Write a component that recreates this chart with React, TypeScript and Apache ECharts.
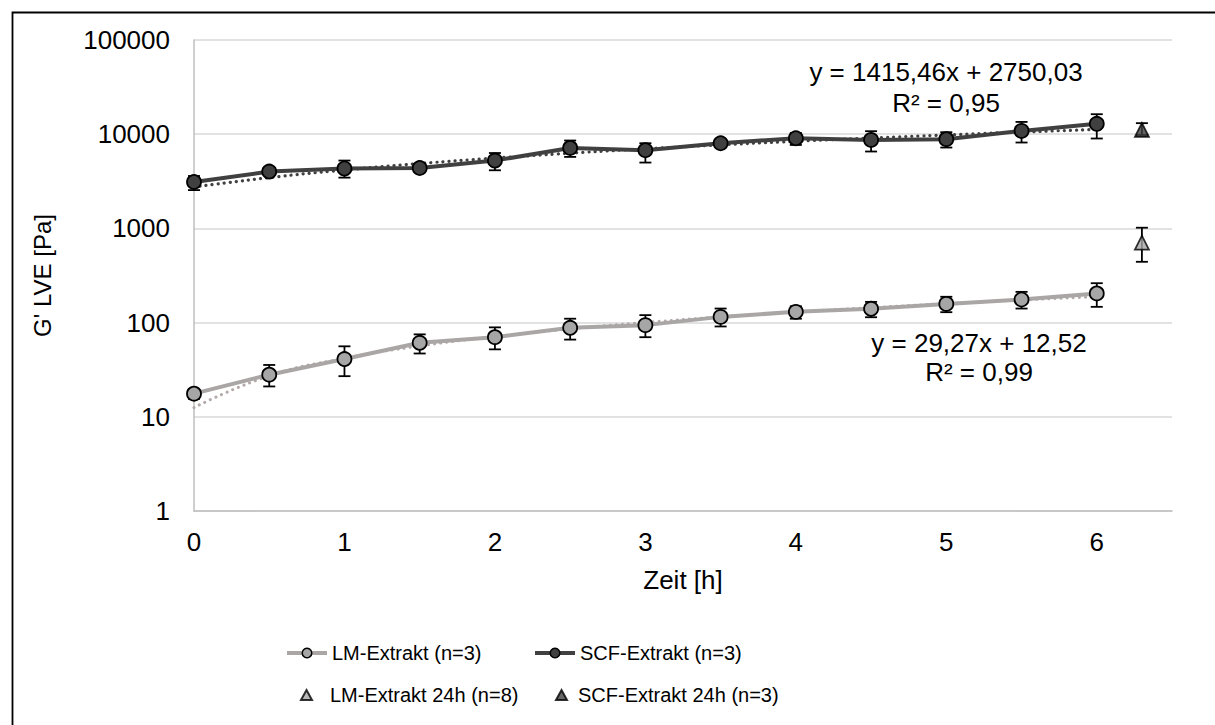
import React, { useEffect, useRef } from "react";
import * as echarts from "echarts";

// ---- data ----
const hours = [0, 0.5, 1, 1.5, 2, 2.5, 3, 3.5, 4, 4.5, 5, 5.5, 6];
const lmMean = [17.6, 28, 41, 61, 70, 88, 94, 115, 130, 140, 158, 176, 204];
const lmLow = [15.5, 21, 27, 47, 52, 66, 70, 91, 110, 114, 129, 141, 147];
const lmHigh = [19.5, 35.5, 56, 75, 89, 110, 120, 141, 149, 166, 188, 212, 262];
const scfMean = [3110, 4010, 4320, 4380, 5250, 7150, 6760, 8020, 9060, 8700, 8850, 10840, 12880];
const scfLow = [2550, 3800, 3460, 4150, 4140, 5740, 5000, 7600, 7690, 6550, 7220, 8160, 9000];
const scfHigh = [3600, 4200, 5250, 4600, 6310, 8570, 8020, 8450, 10300, 10760, 10500, 13500, 16300];

const hours24 = [6.3];
const lm24Mean = [705];
const lm24Low = [442];
const lm24High = [1017];
const scf24Mean = [11100];
const scf24Low = [9800];
const scf24High = [13100];

// trendline coefficients (linear fit, as printed on the chart)
const lmSlope = 29.27;
const lmIntercept = 12.52;
const scfSlope = 1415.46;
const scfIntercept = 2750.03;

const yTicks = [1, 10, 100, 1000, 10000, 100000];
const xTicks = [0, 1, 2, 3, 4, 5, 6];

const LM_NAME = "LM-Extrakt (n=3)";
const SCF_NAME = "SCF-Extrakt (n=3)";
const LM24_NAME = "LM-Extrakt 24h (n=8)";
const SCF24_NAME = "SCF-Extrakt 24h (n=3)";

const FONT = "Liberation Sans, Arial, sans-serif";
const TEXT = "#000000";

function errorBars(xs: number[], lows: number[], highs: number[]) {
  return xs.map((x, i) => [x, lows[i], highs[i]]);
}

function renderErr(params: any, api: any) {
  const x = api.value(0);
  const p1 = api.coord([x, api.value(1)]);
  const p2 = api.coord([x, api.value(2)]);
  const w = 6;
  const style = { stroke: "#000", lineWidth: 1.8 };
  return {
    type: "group",
    children: [
      { type: "line", shape: { x1: p1[0], y1: p1[1], x2: p2[0], y2: p2[1] }, style },
      { type: "line", shape: { x1: p1[0] - w, y1: p1[1], x2: p1[0] + w, y2: p1[1] }, style },
      { type: "line", shape: { x1: p2[0] - w, y1: p2[1], x2: p2[0] + w, y2: p2[1] }, style },
    ],
  };
}

export default function App() {
  const ref = useRef<HTMLDivElement>(null);
  useEffect(() => {
    document.body.style.margin = "0";
    const chart = echarts.init(ref.current!, null, { renderer: "svg" });
    const bigText = { fontFamily: FONT, fontSize: 26, color: TEXT };
    const legendText = { fontFamily: FONT, fontSize: 20, color: TEXT };
    const option: any = {
      animation: false,
      backgroundColor: "#ffffff",
      textStyle: { fontFamily: FONT },
      grid: { left: 194, right: 43, top: 40, bottom: 214, containLabel: false },
      xAxis: {
        type: "value",
        min: 0,
        max: 6.5,
        interval: 1,
        name: "Zeit [h]",
        nameLocation: "middle",
        nameGap: 56,
        nameTextStyle: { ...bigText },
        axisLine: { show: true, lineStyle: { color: "#bfbfbf", width: 1.5 } },
        axisTick: { show: false },
        splitLine: { show: false },
        axisLabel: {
          ...bigText,
          margin: 18,
          showMaxLabel: false,
          formatter: (v: number) => (xTicks.includes(v) ? String(v) : ""),
        },
      },
      yAxis: {
        type: "log",
        logBase: 10,
        min: yTicks[0],
        max: yTicks[yTicks.length - 1],
        name: "G' LVE [Pa]",
        nameLocation: "middle",
        nameGap: 140,
        nameTextStyle: { ...bigText, fontSize: 24 },
        axisLine: { show: true, lineStyle: { color: "#bfbfbf", width: 1.5 } },
        axisTick: { show: false },
        splitLine: { show: true, lineStyle: { color: "#d9d9d9", width: 1.5 } },
        axisLabel: {
          ...bigText,
          margin: 24,
          formatter: (v: number) => String(Math.round(v)),
        },
      },
      legend: [
        {
          data: [LM_NAME], left: 285, top: 643, itemWidth: 40, itemHeight: 12, padding: 0, selectedMode: false,
          textStyle: legendText, lineStyle: { width: 4 }, itemStyle: { borderWidth: 1.5 },
        },
        {
          data: [SCF_NAME], left: 533, top: 643, itemWidth: 40, itemHeight: 12, padding: 0, selectedMode: false,
          textStyle: legendText, lineStyle: { width: 4 }, itemStyle: { borderWidth: 1.5 },
        },
        {
          data: [{ name: LM24_NAME, icon: "triangle" }],
          left: 300, top: 685, itemWidth: 11, itemHeight: 10, padding: 0, selectedMode: false,
          textStyle: { ...legendText, padding: [0, 0, 0, 13] },
        },
        {
          data: [{ name: SCF24_NAME, icon: "triangle" }],
          left: 555, top: 685, itemWidth: 11, itemHeight: 10, padding: 0, selectedMode: false,
          textStyle: { ...legendText, padding: [0, 0, 0, 6] },
        },
      ],
      graphic: [
        { type: "rect", left: 10, top: 10, shape: { width: 1300, height: 800 }, style: { fill: "none", stroke: "#000", lineWidth: 1.8 }, silent: true },
        { type: "text", x: 946, y: 72, style: { text: "y = 1415,46x + 2750,03", font: `26px ${FONT}`, fill: TEXT, textAlign: "center", textVerticalAlign: "middle" } },
        { type: "text", x: 946, y: 103, style: { text: "R² = 0,95", font: `26px ${FONT}`, fill: TEXT, textAlign: "center", textVerticalAlign: "middle" } },
        { type: "text", x: 979, y: 343, style: { text: "y = 29,27x + 12,52", font: `26px ${FONT}`, fill: TEXT, textAlign: "center", textVerticalAlign: "middle" } },
        { type: "text", x: 979, y: 372, style: { text: "R² = 0,99", font: `26px ${FONT}`, fill: TEXT, textAlign: "center", textVerticalAlign: "middle" } },
      ],
      series: [
        {
          name: "LM trend",
          type: "line",
          z: 1,
          smooth: true,
          symbol: "none",
          silent: true,
          data: hours.map((x) => [x, lmSlope * x + lmIntercept]),
          lineStyle: { color: "#b4a9a9", width: 3, type: [0.1, 6], cap: "round" },
        },
        {
          name: "SCF trend",
          type: "line",
          z: 1,
          smooth: true,
          symbol: "none",
          silent: true,
          data: hours.map((x) => [x, scfSlope * x + scfIntercept]),
          lineStyle: { color: "#404040", width: 3.2, type: [0.1, 6], cap: "round" },
        },
        {
          name: "LM err",
          type: "custom",
          z: 2,
          silent: true,
          renderItem: renderErr,
          encode: { x: 0, y: [1, 2] },
          data: errorBars(hours, lmLow, lmHigh),
        },
        {
          name: "SCF err",
          type: "custom",
          z: 2,
          silent: true,
          renderItem: renderErr,
          encode: { x: 0, y: [1, 2] },
          data: errorBars(hours, scfLow, scfHigh),
        },
        {
          name: "LM24 err",
          type: "custom",
          z: 2,
          silent: true,
          renderItem: renderErr,
          encode: { x: 0, y: [1, 2] },
          data: errorBars(hours24, lm24Low, lm24High),
        },
        {
          name: "SCF24 err",
          type: "custom",
          z: 2,
          silent: true,
          renderItem: renderErr,
          encode: { x: 0, y: [1, 2] },
          data: errorBars(hours24, scf24Low, scf24High),
        },
        {
          name: LM_NAME,
          type: "line",
          z: 3,
          symbol: "circle",
          symbolSize: 14,
          data: hours.map((x, i) => [x, lmMean[i]]),
          lineStyle: { color: "#aaa6a6", width: 4 },
          itemStyle: { color: "#a6a6a6", borderColor: "#000", borderWidth: 1.8 },
        },
        {
          name: SCF_NAME,
          type: "line",
          z: 3,
          symbol: "circle",
          symbolSize: 14,
          data: hours.map((x, i) => [x, scfMean[i]]),
          lineStyle: { color: "#404040", width: 4 },
          itemStyle: { color: "#404040", borderColor: "#000", borderWidth: 1.8 },
        },
        {
          name: LM24_NAME,
          type: "scatter",
          z: 3,
          symbol: "triangle",
          symbolSize: 14,
          data: hours24.map((x, i) => [x, lm24Mean[i]]),
          itemStyle: { color: "#a6a6a6", borderColor: "#000", borderWidth: 1.8 },
        },
        {
          name: SCF24_NAME,
          type: "scatter",
          z: 3,
          symbol: "triangle",
          symbolSize: 14,
          data: hours24.map((x, i) => [x, scf24Mean[i]]),
          itemStyle: { color: "#404040", borderColor: "#000", borderWidth: 1.8 },
        },
      ],
    };
    chart.setOption(option);
    return () => chart.dispose();
  }, []);
  return <div ref={ref} style={{ width: 1215, height: 725 }} />;
}
